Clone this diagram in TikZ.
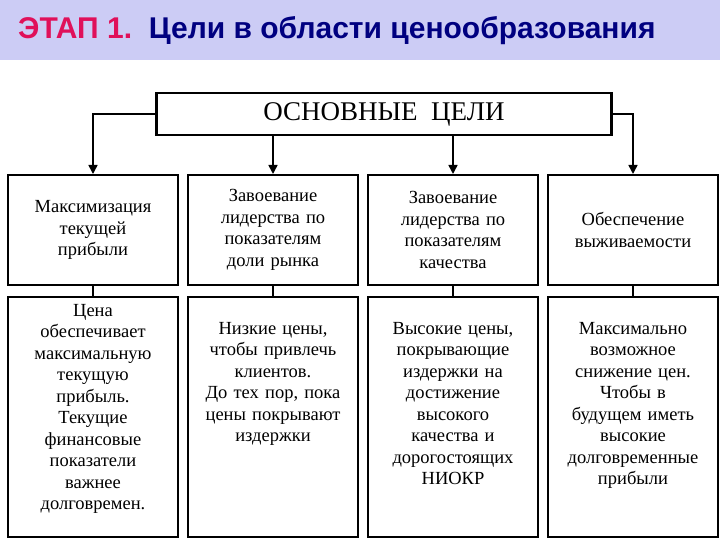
\documentclass[tikz,border=0pt]{standalone}
\usepackage{fontspec}
\setmainfont{Liberation Serif}
\newfontfamily\titlefont{Liberation Sans}
\usetikzlibrary{arrows.meta}
\definecolor{band}{HTML}{CCCCF5}
\definecolor{navy}{HTML}{000080}
\definecolor{pinkred}{HTML}{E0105A}
\begin{document}
\begin{tikzpicture}[x=1pt,y=-1pt,
  cell/.style={draw,line width=2pt,minimum width=170pt,text width=166pt,align=center,font=\fontsize{18.5}{21.5}\selectfont,inner sep=2pt},
  box/.style={draw,line width=2pt,minimum width=170pt,minimum height=240pt,anchor=north},
  txt/.style={anchor=north,text width=166pt,align=center,font=\fontsize{18.5}{21.5}\selectfont,inner sep=0pt},
  conn/.style={line width=1.6pt,-{Triangle[length=9pt,width=9pt]}},
  link/.style={line width=1.6pt}]
\useasboundingbox (0,0) rectangle (720,540);
\fill[band] (0,0) rectangle (720,60);
\node[anchor=west,font=\titlefont\bfseries\fontsize{30}{34}\selectfont,inner sep=0pt] (title) at (18,31)
  {\textcolor{pinkred}{ЭТАП 1.}\ \ \textcolor{navy}{Цели в области ценообразования}};
\node[draw,line width=2.5pt,minimum width=455pt,minimum height=42pt,font=\fontsize{27}{30}\selectfont] (main) at (384,114) {ОСНОВНЫЕ\ \ ЦЕЛИ};
% top row
\node[cell,minimum height=110pt] (a1) at (93,230) {Максимизация\\текущей\\прибыли};
\node[cell,minimum height=110pt] (a2) at (273,230) {Завоевание\\лидерства по\\показателям\\доли рынка};
\node[cell,minimum height=110pt] (a3) at (453,230) {Завоевание\\лидерства по\\показателям\\качества};
\node[cell,minimum height=110pt] (a4) at (633,230) {Обеспечение\\выживаемости};
% bottom row
\node[box] (b1) at (93,296) {};
\node[box] (b2) at (273,296) {};
\node[box] (b3) at (453,296) {};
\node[box] (b4) at (633,296) {};
\node[txt] (t1) at (93,304) {Цена\\обеспечивает\\максимальную\\текущую\\прибыль.\\Текущие\\финансовые\\показатели\\важнее\\долговремен.};
\node[txt] (t2) at (273,322) {Низкие цены,\\чтобы привлечь\\клиентов.\\До тех пор, пока\\цены покрывают\\издержки};
\node[txt] (t3) at (453,322) {Высокие цены,\\покрывающие\\издержки на\\достижение\\высокого\\качества и\\дорогостоящих\\НИОКР};
\node[txt] (t4) at (633,322) {Максимально\\возможное\\снижение цен.\\Чтобы в\\будущем иметь\\высокие\\долговременные\\прибыли};
% connectors
\draw[conn] (main.west) -| (a1.north);
\draw[conn] (main.east) -| (a4.north);
\draw[conn] (main.south -| a2.north) -- (a2.north);
\draw[conn] (main.south -| a3.north) -- (a3.north);
\foreach \i in {1,2,3,4} \draw[link] (a\i.south) -- (b\i.north);
\end{tikzpicture}
\end{document}
